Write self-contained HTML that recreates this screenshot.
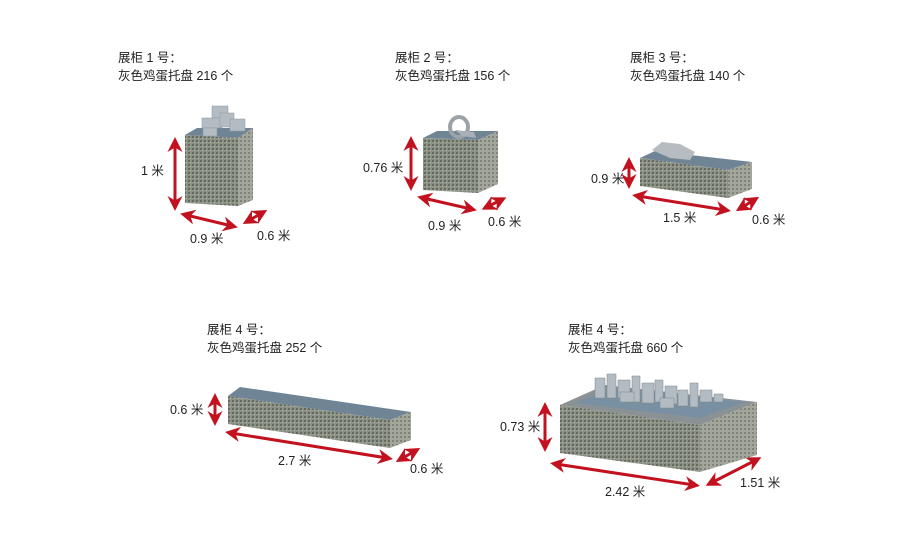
<!DOCTYPE html>
<html><head><meta charset="utf-8"><style>
html,body{margin:0;padding:0;background:#fff}
svg{display:block}
text{font-family:"Liberation Sans","Noto Sans CJK SC",sans-serif;font-size:12.5px;fill:#222}
</style></head><body>
<svg width="900" height="545" viewBox="0 0 900 545" xmlns="http://www.w3.org/2000/svg">
<defs>
<pattern id="p" width="4" height="4" patternUnits="userSpaceOnUse">
<rect width="4" height="4" fill="#8c9185"/>
<rect x="0" y="0" width="2" height="2" fill="#666b60"/>
<rect x="2" y="2" width="1" height="1" fill="#b4b7ac"/>
</pattern>
<pattern id="ps" width="4" height="4" patternUnits="userSpaceOnUse">
<rect width="4" height="4" fill="#a3a69b"/>
<rect x="0" y="0" width="2" height="2" fill="#7f8379"/>
</pattern>
<marker id="a" viewBox="0 0 10 10" refX="6" refY="5" markerWidth="5" markerHeight="5" orient="auto-start-reverse">
<path d="M0,0 L10,5 L0,10 L3,5 Z" fill="#c3121f"/>
</marker>
</defs>
<g stroke="#c3121f" stroke-width="3" fill="none" marker-start="url(#a)" marker-end="url(#a)">
<line x1="175" y1="143" x2="175" y2="205"/>
<line x1="186" y1="215" x2="232" y2="226"/>
<line x1="248" y1="221" x2="262" y2="213"/>
<line x1="411" y1="142" x2="411" y2="185"/>
<line x1="423" y1="198" x2="471" y2="209"/>
<line x1="487" y1="207" x2="501" y2="200"/>
<line x1="629" y1="163" x2="629" y2="183"/>
<line x1="638" y1="196" x2="725" y2="210"/>
<line x1="741" y1="208" x2="754" y2="200"/>
<line x1="215" y1="399" x2="215" y2="420"/>
<line x1="231" y1="433" x2="387" y2="458"/>
<line x1="401" y1="459" x2="415" y2="451"/>
<line x1="545" y1="408" x2="545" y2="446"/>
<line x1="556" y1="464" x2="694" y2="485"/>
<line x1="711" y1="483" x2="756" y2="460"/>
</g>
<!-- box1 -->
<polygon points="185,135 197,128 253,128 238,138" fill="#6f8596"/>
<polygon points="185,135 238,138 238,206 185,203" fill="url(#p)"/>
<polygon points="238,138 253,128 253,200 238,206" fill="url(#ps)"/>
<g fill="#b3bcc3" stroke="#8e979e" stroke-width="0.5">
<rect x="212" y="106" width="16" height="12"/><rect x="202" y="118" width="20" height="10"/>
<rect x="220" y="113" width="14" height="14"/><rect x="230" y="119" width="15" height="12"/>
<rect x="203" y="128" width="14" height="8"/>
</g>
<!-- box2 -->
<polygon points="423,138 437,131 498,131 478,140" fill="#6f8596"/>
<polygon points="423,138 478,140 478,193 423,190" fill="url(#p)"/>
<polygon points="478,140 498,131 498,184 478,193" fill="url(#ps)"/>
<ellipse cx="459" cy="127" rx="9" ry="10" fill="none" stroke="#9ba2a8" stroke-width="4"/>
<path d="M455,130 L474,132 L476,138 L462,136 Z" fill="#a9afb4"/>
<!-- box3 -->
<polygon points="640,158 655,151 752,162 728,170" fill="#6f8596"/>
<polygon points="640,158 728,170 728,198 640,186" fill="url(#p)"/>
<polygon points="728,170 752,162 752,189 728,198" fill="url(#ps)"/>
<path d="M652,150 L662,142 L680,144 L695,152 L690,160 L670,158 Z" fill="#b6bcc1"/>
<!-- box4 -->
<polygon points="228,396 240,387 411,412 390,420" fill="#6f8596"/>
<polygon points="228,396 390,420 390,448 228,424" fill="url(#p)"/>
<polygon points="390,420 411,412 411,440 390,448" fill="url(#ps)"/>
<!-- box5 -->
<polygon points="560,405 605,385 757,402 700,425" fill="#8a9296"/>
<polygon points="575,403 610,390 745,402 700,418" fill="#7890a2"/>
<polygon points="560,405 700,425 700,472 560,453" fill="url(#p)"/>
<polygon points="700,425 757,402 757,455 700,472" fill="url(#ps)"/>
<g fill="#b3bcc3" stroke="#7f868c" stroke-width="0.5">
<rect x="595" y="378" width="10" height="20"/><rect x="607" y="374" width="9" height="24"/>
<rect x="618" y="380" width="12" height="18"/><rect x="632" y="376" width="8" height="26"/>
<rect x="642" y="383" width="12" height="20"/><rect x="655" y="380" width="8" height="22"/>
<rect x="665" y="386" width="12" height="18"/><rect x="678" y="390" width="10" height="16"/>
<rect x="690" y="383" width="8" height="24"/><rect x="700" y="390" width="12" height="12"/>
<rect x="714" y="394" width="9" height="8"/><rect x="620" y="392" width="14" height="10"/>
<rect x="660" y="398" width="14" height="10"/>
</g>
<!-- labels -->
<text x="118" y="62">展柜 1 号：</text><text x="118" y="80">灰色鸡蛋托盘 216 个</text>
<text x="395" y="62">展柜 2 号：</text><text x="395" y="80">灰色鸡蛋托盘 156 个</text>
<text x="630" y="62">展柜 3 号：</text><text x="630" y="80">灰色鸡蛋托盘 140 个</text>
<text x="207" y="334">展柜 4 号：</text><text x="207" y="352">灰色鸡蛋托盘 252 个</text>
<text x="568" y="334">展柜 4 号：</text><text x="568" y="352">灰色鸡蛋托盘 660 个</text>
<text x="141" y="175">1 米</text>
<text x="190" y="243">0.9 米</text><text x="257" y="240">0.6 米</text>
<text x="363" y="172">0.76 米</text>
<text x="428" y="230">0.9 米</text><text x="488" y="226">0.6 米</text>
<text x="591" y="183">0.9 米</text>
<text x="663" y="222">1.5 米</text><text x="752" y="224">0.6 米</text>
<text x="170" y="414">0.6 米</text>
<text x="278" y="465">2.7 米</text><text x="410" y="473">0.6 米</text>
<text x="500" y="431">0.73 米</text>
<text x="605" y="496">2.42 米</text><text x="740" y="487">1.51 米</text>
</svg>
</body></html>
